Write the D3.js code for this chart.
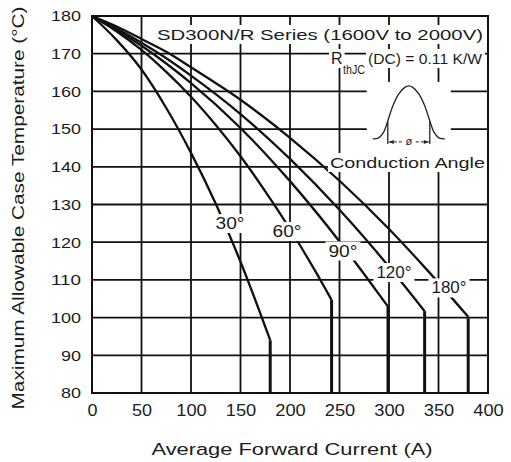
<!DOCTYPE html>
<html>
<head>
<meta charset="utf-8">
<script src="https://cdn.jsdelivr.net/npm/d3@7"></script>
<style>
  html, body { margin: 0; padding: 0; background: #fff; }
  svg { display: block; }
  text { font-family: "Liberation Sans", Arial, sans-serif; fill: #1c1c1c; }
</style>
</head>
<body>
<svg id="chart" width="511" height="462"></svg>
<script>
// Axis ticks
const currentTicks = [0, 50, 100, 150, 200, 250, 300, 350, 400];
const tempTicks = [80, 90, 100, 110, 120, 130, 140, 150, 160, 170, 180];

// Conduction angle labels
const angleLabels = ["30°", "60°", "90°", "120°", "180°"];

// Derating curves: [average forward current (A), max case temperature (°C)]
const curve30 = [[0,180],[25,173.6],[50,165.8],[75,155.6],[100,143.7],[125,130.2],[150,114.8],[180,94],[180,80]];
const curve60 = [[0,180],[25,175.9],[50,171.0],[75,165.2],[100,158.6],[125,151.1],[150,142.8],[175,133.5],[200,123.5],[225,112.6],[242,104.7],[242,80]];
const curve90 = [[0,180],[25,176.3],[50,172.1],[75,167.4],[100,162.2],[150,150.3],[200,136.2],[250,120.2],[275,111.5],[299,102.9],[299,80]];
const curve120 = [[0,180],[25,176.7],[50,172.9],[75,168.8],[100,164.2],[150,154],[200,142.1],[250,128.6],[300,113.5],[336,101.7],[336,80]];
const curve180 = [[0,180],[25,177.2],[50,173.9],[75,170.5],[100,166.4],[150,157.8],[200,147.7],[250,136.3],[300,123.5],[340,112.2],[380,100.2],[380,80]];

// Where each angle label sits, in data units [A, °C]
const labelAnchors = [[139.4,123.5],[197,121.4],[253.5,116.2],[305,110.5],[360.6,106.4]];

const curves = [curve30, curve60, curve90, curve120, curve180];

const svg = d3.select("#chart");
const x = d3.scaleLinear().domain([0, 400]).range([92, 488]);
const y = d3.scaleLinear().domain([80, 180]).range([393, 16]);

const ink = "#111";

// Grid
const grid = svg.append("g");
grid.selectAll("line.v").data(currentTicks).join("line")
  .attr("x1", d => x(d)).attr("x2", d => x(d))
  .attr("y1", y(180)).attr("y2", y(80))
  .attr("stroke", ink).attr("stroke-width", 1.8);
grid.selectAll("line.h").data(tempTicks).join("line")
  .attr("x1", x(0)).attr("x2", x(400))
  .attr("y1", d => y(d)).attr("y2", d => y(d))
  .attr("stroke", ink).attr("stroke-width", 1.8);

// Curves: smooth derating part plus the vertical current limit
const line = d3.line().x(d => x(d[0])).y(d => y(d[1])).curve(d3.curveMonotoneX);
const curveG = svg.append("g").attr("fill", "none").attr("stroke", ink);
curves.forEach(c => {
  curveG.append("path").attr("d", line(c.slice(0, -1))).attr("stroke-width", 2.3);
  const a = c[c.length - 2], b = c[c.length - 1];
  curveG.append("line")
    .attr("x1", x(a[0])).attr("x2", x(b[0]))
    .attr("y1", y(a[1])).attr("y2", y(b[1]))
    .attr("stroke-width", 3);
});

// Annotation layer: white boxes behind texts
const boxes = svg.append("g");
const notes = svg.append("g");

function boxed(sel, padX, padY) {
  const b = sel.node().getBBox();
  boxes.append("rect")
    .attr("x", b.x - padX).attr("y", b.y - padY)
    .attr("width", b.width + 2 * padX).attr("height", b.height + 2 * padY)
    .attr("fill", "#fff");
  return sel;
}

// Angle labels
angleLabels.forEach((t, i) => {
  const [a, v] = labelAnchors[i];
  const txt = notes.append("text")
    .attr("x", x(a)).attr("y", y(v))
    .attr("text-anchor", "middle")
    .attr("font-size", 16)
    .attr("textLength", t.length === 3 ? 29 : 35)
    .attr("lengthAdjust", "spacingAndGlyphs")
    .text(t);
  boxed(txt, 3, 1);
});

// Title lines
const title = notes.append("text")
  .attr("x", 157).attr("y", 40)
  .attr("font-size", 15)
  .attr("textLength", 326).attr("lengthAdjust", "spacingAndGlyphs")
  .text("SD300N/R Series (1600V to 2000V)");
boxed(title, 2, 1);

const rR = notes.append("text").attr("x", 331).attr("y", 64).attr("font-size", 16).text("R");
boxed(rR, 2, 1);
const rSub = notes.append("text").attr("x", 343).attr("y", 74).attr("font-size", 12)
  .attr("textLength", 22).attr("lengthAdjust", "spacingAndGlyphs").text("thJC");
boxed(rSub, 1, 0);
const rRest = notes.append("text").attr("x", 368).attr("y", 64).attr("font-size", 15)
  .attr("textLength", 114).attr("lengthAdjust", "spacingAndGlyphs").text("(DC) = 0.11 K/W");
boxed(rRest, 2, 1);

// Conduction angle waveform
const icon = notes.append("g").attr("transform", `translate(${x(320)},${y(147.4)})`);
boxes.append("rect")
  .attr("x", x(320) - 42).attr("y", y(147.4) - 57)
  .attr("width", 84).attr("height", 72).attr("fill", "#fff");
const wave = [[-36,0],[-30,-1],[-25,-7],[-21,-18],[-16,-33],[-10,-45],[-4,-51.5],[0,-53],[4,-51.5],[10,-45],[16,-33],[21,-18],[25,-7],[30,-1],[36,0]];
icon.append("path")
  .attr("d", d3.line().curve(d3.curveCatmullRom)(wave))
  .attr("fill", "none").attr("stroke", "#222").attr("stroke-width", 1.3);
icon.selectAll("line.mark").data([-21, 21]).join("line")
  .attr("x1", d => d).attr("x2", d => d).attr("y1", -18).attr("y2", 5)
  .attr("stroke", "#222").attr("stroke-width", 1.3);
icon.append("line").attr("x1", -20).attr("x2", -7).attr("y1", 3).attr("y2", 3)
  .attr("stroke", "#222").attr("stroke-width", 1).attr("stroke-dasharray", "3,2");
icon.append("line").attr("x1", 7).attr("x2", 20).attr("y1", 3).attr("y2", 3)
  .attr("stroke", "#222").attr("stroke-width", 1).attr("stroke-dasharray", "3,2");
icon.append("path").attr("d", "M-20,3 L-15,1 L-15,5 Z M20,3 L15,1 L15,5 Z").attr("fill", "#222");
icon.append("text").attr("x", 0).attr("y", 6.5).attr("text-anchor", "middle")
  .attr("font-size", 11).text("ø");

const cond = notes.append("text")
  .attr("x", 330).attr("y", 168)
  .attr("font-size", 15.5)
  .attr("textLength", 155).attr("lengthAdjust", "spacingAndGlyphs")
  .text("Conduction Angle");
boxed(cond, 2, 1);

// Plot frame
svg.append("rect")
  .attr("x", x(0)).attr("y", y(180))
  .attr("width", x(400) - x(0)).attr("height", y(80) - y(180))
  .attr("fill", "none").attr("stroke", ink).attr("stroke-width", 2);

// Axes (labels only, grid carries the ticks)
function tickWidth(s, three) { return s.length === 1 ? 10 : s.length === 2 ? 20 : three; }

const yAxis = svg.append("g").attr("transform", `translate(${x(0)},0)`)
  .call(d3.axisLeft(y).tickValues(tempTicks).tickSize(0).tickPadding(11).tickFormat(d3.format("d")));
yAxis.select(".domain").remove();
yAxis.selectAll("text")
  .attr("font-size", 15).attr("font-family", "Liberation Sans, Arial, sans-serif").attr("fill", "#1c1c1c")
  .attr("textLength", d => tickWidth(String(d), 30)).attr("lengthAdjust", "spacingAndGlyphs");

const xAxis = svg.append("g").attr("transform", `translate(0,${y(80)})`)
  .call(d3.axisBottom(x).tickValues(currentTicks).tickSize(0).tickPadding(12).tickFormat(d3.format("d")));
xAxis.select(".domain").remove();
xAxis.selectAll("text")
  .attr("font-size", 16).attr("font-family", "Liberation Sans, Arial, sans-serif").attr("fill", "#1c1c1c")
  .attr("textLength", d => tickWidth(String(d), 30.5)).attr("lengthAdjust", "spacingAndGlyphs");

// Axis titles
svg.append("text")
  .attr("x", 292).attr("y", 455)
  .attr("text-anchor", "middle").attr("font-size", 16)
  .attr("textLength", 281).attr("lengthAdjust", "spacingAndGlyphs")
  .text("Average Forward Current (A)");

svg.append("text")
  .attr("transform", "translate(24,208) rotate(-90)")
  .attr("text-anchor", "middle").attr("font-size", 17)
  .attr("textLength", 403).attr("lengthAdjust", "spacingAndGlyphs")
  .text("Maximum Allowable Case Temperature (°C)");
</script>
</body>
</html>
